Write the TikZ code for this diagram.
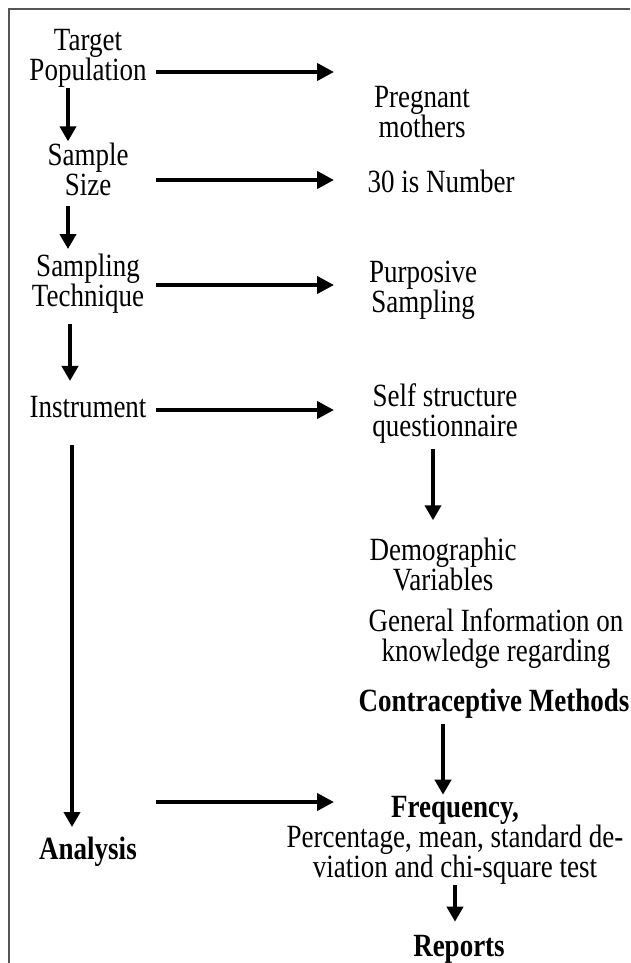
\documentclass[tikz,border=0pt]{standalone}
\usepackage{fontspec}
\setmainfont{Liberation Serif}
\usepackage{tikz}
\usetikzlibrary{arrows.meta}
\usepackage{xcolor}
\definecolor{frame}{HTML}{555555}
\definecolor{ink}{HTML}{000000}

\begin{document}
\begin{tikzpicture}[
  x=1pt, y=-1pt,
  every node/.style={font=\fontsize{27}{25}\selectfont, align=center, inner sep=0pt,
    text=ink, yscale=1.2, transform shape},
  lbox/.style={minimum width=136pt},
  bold/.style={font=\fontsize{27}{25}\selectfont\bfseries},
  harrow/.style={-{Triangle[length=17pt,width=17pt]}, line width=4pt, draw=ink},
  varrow/.style={-{Triangle[length=15pt,width=16pt]}, line width=4pt, draw=ink}
]
  \useasboundingbox (0,0) rectangle (630,963);
  \def\hx{334}

  % frame, only top and left are visible
  \draw[frame, line width=2pt] (630,9) -- (9,9) -- (9,963);

  % left column
  \node[lbox] (tp)  at (88,58)  {Target\\Population};
  \node[lbox] (ss)  at (88,169) {Sample\\Size};
  \node[lbox] (st)  at (88,284) {Sampling\\Technique};
  \node[lbox] (ins) at (88,407) {Instrument};
  \node[lbox, bold] (ana) at (88,852) {Analysis};

  % right column
  \node (pm)  at (422,112) {Pregnant\\mothers};
  \node (num) at (441,181) {30 is Number};
  \node (ps)  at (423,290) {Purposive\\Sampling};
  \node (sq)  at (445,414) {Self structure\\questionnaire};
  \node (dv)  at (443,564) {Demographic\\Variables};
  \node (gi)  at (496,639) {General Information on\\knowledge regarding};
  \node[bold] (cm) at (494,704) {Contraceptive Methods};
  \node (fr)  at (455,840) {\textbf{Frequency,}\\Percentage, mean, standard de-\\viation and chi-square test};
  \node[bold] (rep) at (459,949) {Reports};

  % arrow heads of the horizontal links
  \coordinate (h1) at (\hx,72);
  \coordinate (h2) at (\hx,180);
  \coordinate (h3) at (\hx,285);
  \coordinate (h4) at (\hx,410);
  \coordinate (h5) at (\hx,802);

  \draw[harrow] (tp.east  |- h1) -- (h1);
  \draw[harrow] (ss.east  |- h2) -- (h2);
  \draw[harrow] (st.east  |- h3) -- (h3);
  \draw[harrow] (ins.east |- h4) -- (h4);
  \draw[harrow] (ana.east |- h5) -- (h5);

  % vertical links
  \draw[varrow, shorten <=1pt, shorten >=1pt] ([xshift=-20pt]tp.south) -- ([xshift=-20pt]ss.north);
  \draw[varrow, shorten <=10pt, shorten >=5pt] ([xshift=-20pt]ss.south) -- ([xshift=-20pt]st.north);
  \draw[varrow, shorten <=10pt, shorten >=15pt] ([xshift=-18pt]st.south) -- ([xshift=-18pt]ins.north);
  \draw[varrow, shorten <=27pt, shorten >=10pt] ([xshift=-16pt]ins.south) -- ([xshift=-16pt]ana.north);
  \draw[varrow, shorten <=5pt, shorten >=17pt] ([xshift=-12pt]sq.south) -- ([xshift=-10pt]dv.north);
  \draw[varrow, shorten <=5pt, shorten >=1pt] ([xshift=-51pt]cm.south) -- ([xshift=-12pt]fr.north);
  \draw[varrow, shorten <=1pt, shorten >=13pt] ([xshift=0pt]fr.south) -- ([xshift=-4pt]rep.north);
\end{tikzpicture}
\end{document}
